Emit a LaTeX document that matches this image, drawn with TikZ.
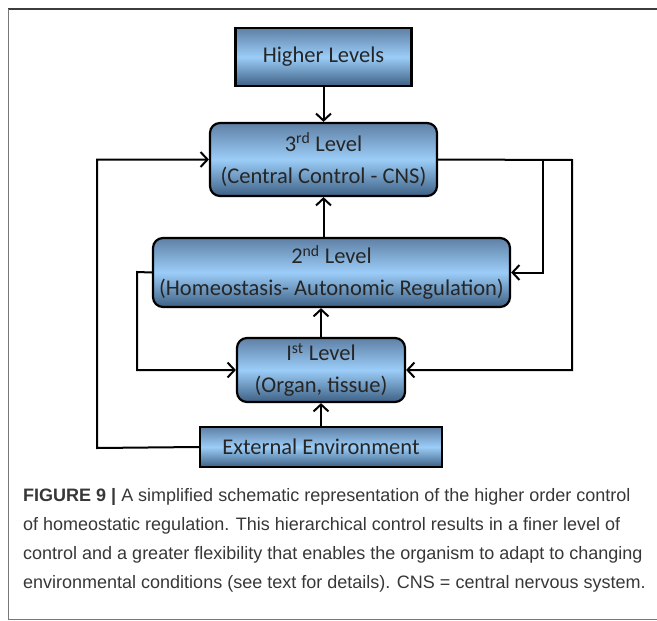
\documentclass[tikz,border=0pt]{standalone}
\usepackage{fontspec}
\setmainfont{Carlito}
\newfontfamily\capfont{Liberation Sans}
\usetikzlibrary{arrows.meta,calc}
\definecolor{boxtop}{RGB}{95,128,165}
\definecolor{boxmid}{RGB}{155,205,248}
\definecolor{boxbot}{RGB}{62,96,132}
\definecolor{captext}{RGB}{55,55,55}
\definecolor{frametop}{RGB}{60,60,60}
\definecolor{frameside}{RGB}{120,120,120}
\begin{document}
\begin{tikzpicture}[x=1pt,y=-1pt,
  boxbase/.style={draw=black,line width=2.2pt,top color=boxtop,bottom color=boxbot,middle color=boxmid,
    text=black!85,font=\fontsize{22.5}{32}\selectfont,align=center,inner sep=0pt},
  sqbox/.style={boxbase},
  rbox/.style={boxbase,rounded corners=10pt},
  arr/.style={line width=2pt,-{Straight Barb[length=7pt,width=15pt,line width=2pt]}},
  ln/.style={line width=2pt}]
\useasboundingbox (0,0) rectangle (657,621);
% frame
\draw[frametop,line width=1.6pt] (8,9) -- (660,9);
\draw[frameside,line width=1pt] (8,9) -- (8,619) -- (660,619);
% boxes
\node[sqbox,minimum width=176pt,minimum height=58pt] (hl) at (323.5,57) {Higher Levels};
\node[rbox,minimum width=227pt,minimum height=73pt] (l3) at (323.5,159.5) {3\textsuperscript{rd} Level\\(Central Control - CNS)};
\node[rbox,minimum width=357pt,minimum height=69pt] (l2) at (331.5,272.5) {2\textsuperscript{nd} Level\\(Homeostasis- Autonomic Regulation)};
\node[rbox,minimum width=168pt,minimum height=64pt] (l1) at (321,370) {I\textsuperscript{st} Level\\(Organ, tissue)};
\node[sqbox,minimum width=242pt,minimum height=40pt] (ext) at (321,447) {External Environment};
% coordinates
\coordinate (rc) at (572,160);
\coordinate (rb) at (543,160);
\coordinate (lc) at (137,272);
\coordinate (oc) at (97,448);
% vertical arrows
\draw[arr] (hl.south) -- (l3.north);
\draw[arr] (l3.south |- l2.north) -- (l3.south);
\draw[arr] (l1.north) -- (l1.north |- l2.south);
\draw[arr] (ext.north) -- (l1.south);
% right loop
\draw[arr] (l3.east) -- (rc) |- (l1.east);
\draw[arr] (rb) |- (l2.east);
% left inner loop
\draw[arr] (l2.west) -- (lc) |- (l1.west);
% outer left loop
\draw[arr] (ext.west) -- (oc) |- (l3.west);
% caption
\node[anchor=north west,inner sep=0pt,align=left,text=captext,font=\capfont\fontsize{18}{29}\selectfont] (cap) at (23,488)
{\textbf{FIGURE 9 |} A simplified schematic representation of the higher order control\\
of homeostatic regulation. This hierarchical control results in a finer level of\\
control and a greater flexibility that enables the organism to adapt to changing\\
environmental conditions (see text for details). CNS = central nervous system.};
\end{tikzpicture}
\end{document}
